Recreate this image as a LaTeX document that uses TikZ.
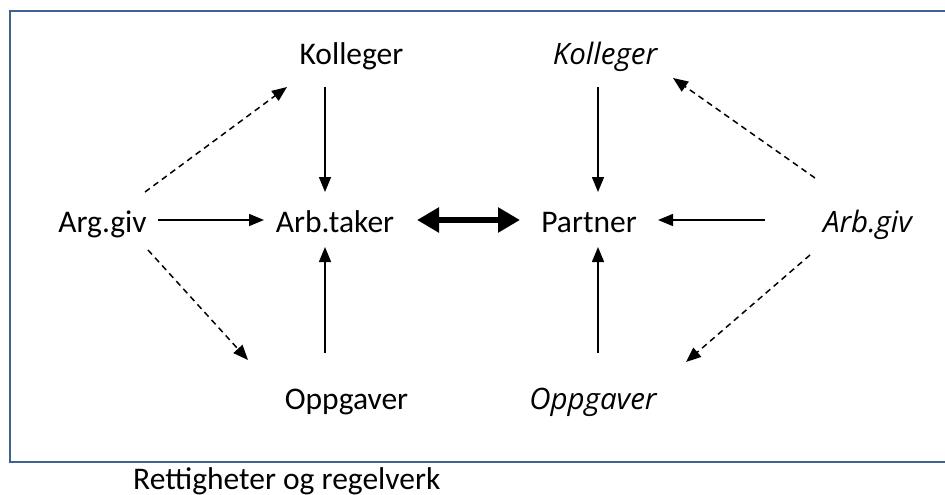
\documentclass[tikz,border=0pt]{standalone}
\usepackage{fontspec}
\setmainfont{Carlito}
\newfontfamily\osans{Open Sans}
\usetikzlibrary{arrows.meta,calc}
\definecolor{framecol}{RGB}{62,98,146}
\tikzset{
  lbl/.style={anchor=base,inner sep=0pt,font=\fontsize{31.5}{36}\selectfont},
  ilbl/.style={anchor=base,inner sep=0pt,font=\osans\itshape\fontsize{29.5}{34}\selectfont},
  arr/.style={line width=1.5pt,-{Triangle[length=15pt,width=12pt]}},
  darr/.style={arr,dash pattern=on 6pt off 4.5pt},
  bigarr/.style={line width=6pt,{Triangle[length=22pt,width=24pt]}-{Triangle[length=22pt,width=24pt]}}
}
\begin{document}
\begin{tikzpicture}[x=1pt,y=-1pt]
\useasboundingbox (0,0) rectangle (945,495);
\draw[framecol,line width=2pt] (946,11) -- (10,11) -- (10,462) -- (946,462);
\node[lbl] (k1) at (351.5,65) {Kolleger};
\node[ilbl] (k2) at (605,65) {Kolleger};
\node[lbl] (ag) at (102.5,232) {Arg.giv};
\node[lbl] (at) at (335,232) {Arb.taker};
\node[lbl] (pa) at (589,232) {Partner};
\node[ilbl] (ab) at (867.5,232) {Arb.giv};
\node[lbl] (o1) at (346.5,409) {Oppgaver};
\node[ilbl] (o2) at (593,409) {Oppgaver};
\node[lbl,anchor=base west] (ret) at (133,489) {Rettigheter og regelverk};
% left verticals
\draw[arr] ($(k1.base)+(-26.5,22)$) -- ($(at.base)+(-10,-40)$);
\draw[arr] ($(o1.base)+(-21.5,-56)$) -- ($(at.base)+(-10,15)$);
% horizontal
\draw[arr] ($(ag.base)+(55.5,-12)$) -- ($(at.base)+(-71,-12)$);
\draw[bigarr] ($(at.base)+(82,-12)$) -- ($(pa.base)+(-69,-12)$);
\draw[arr] ($(ab.base)+(-102.5,-12)$) -- ($(pa.base)+(69,-12)$);
% right verticals
\draw[arr] ($(k2.base)+(-7,22)$) -- ($(pa.base)+(9,-40)$);
\draw[arr] ($(o2.base)+(5,-56)$) -- ($(pa.base)+(9,15)$);
% dashed
\draw[darr] ($(ag.base)+(42.5,-40)$) -- ($(k1.base)+(-64.5,22)$);
\draw[darr] ($(ag.base)+(45.5,18)$) -- ($(o1.base)+(-98.5,-49)$);
\draw[darr] ($(ab.base)+(-52.5,-54)$) -- ($(k2.base)+(68,13)$);
\draw[darr] ($(ab.base)+(-57.5,23)$) -- ($(o2.base)+(93,-47)$);
\end{tikzpicture}
\end{document}
